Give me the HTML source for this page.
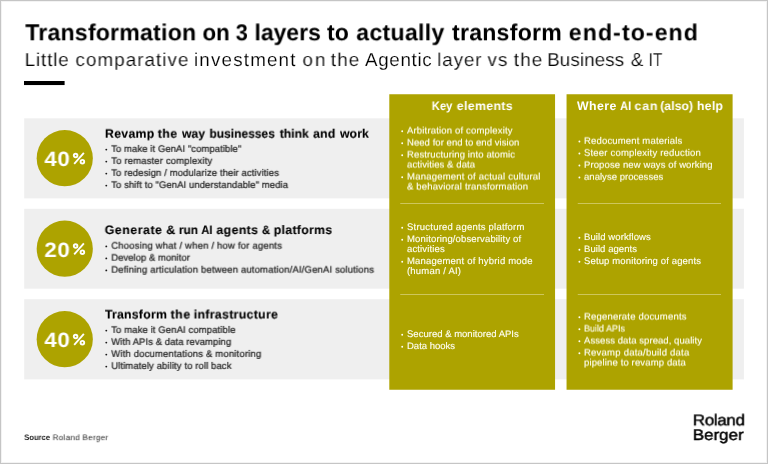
<!DOCTYPE html>
<html lang="en"><head><meta charset="utf-8"><title>Transformation on 3 layers</title>
<style>
html,body{margin:0;padding:0;background:#fff}
body{width:768px;height:464px;position:relative;overflow:hidden;font-family:"Liberation Sans",sans-serif}
.frame{position:absolute;left:0;top:0;width:766px;height:462px;border:1px solid #c5c5c5;box-shadow:inset 0 0 0 1px #f3f3f3}
.t{position:absolute;white-space:nowrap;margin:0;padding:0;will-change:transform;text-rendering:geometricPrecision;transform-origin:0 0}
.bg{position:absolute;left:0;top:0}
</style></head><body>
<div class="frame"></div>

<svg class="bg" width="768" height="464" viewBox="0 0 768 464"><rect x="24" y="81" width="40.6" height="4.05" fill="#000"/><rect x="24.20" y="118.30" width="719.70" height="80.10" fill="#efefef"/><rect x="24.20" y="208.80" width="719.70" height="79.90" fill="#efefef"/><rect x="24.20" y="299.20" width="719.70" height="80.20" fill="#efefef"/><rect x="389.30" y="94.25" width="165.75" height="295.50" fill="#ada300"/><rect x="566.55" y="94.25" width="166.05" height="295.50" fill="#ada300"/><circle cx="64.75" cy="158.20" r="28.1" fill="#ada300"/><g transform="translate(72.50 150.70)" fill="none" stroke="#fff"><circle cx="3.1" cy="4.8" r="1.8" stroke-width="1.9"/><circle cx="9.9" cy="11.0" r="1.8" stroke-width="1.9"/><line x1="11.35" y1="2.25" x2="1.7" y2="13.25" stroke-width="1.85"/></g><circle cx="64.75" cy="248.70" r="28.1" fill="#ada300"/><g transform="translate(72.50 241.20)" fill="none" stroke="#fff"><circle cx="3.1" cy="4.8" r="1.8" stroke-width="1.9"/><circle cx="9.9" cy="11.0" r="1.8" stroke-width="1.9"/><line x1="11.35" y1="2.25" x2="1.7" y2="13.25" stroke-width="1.85"/></g><circle cx="64.75" cy="339.20" r="28.1" fill="#ada300"/><g transform="translate(72.50 331.70)" fill="none" stroke="#fff"><circle cx="3.1" cy="4.8" r="1.8" stroke-width="1.9"/><circle cx="9.9" cy="11.0" r="1.8" stroke-width="1.9"/><line x1="11.35" y1="2.25" x2="1.7" y2="13.25" stroke-width="1.85"/></g><line x1="400.25" y1="203.50" x2="544" y2="203.50" stroke="#cdc65c" stroke-width="1"/><line x1="577.75" y1="203.50" x2="721" y2="203.50" stroke="#cdc65c" stroke-width="1"/><line x1="400.25" y1="294.50" x2="544" y2="294.50" stroke="#cdc65c" stroke-width="1"/><line x1="577.75" y1="294.50" x2="721" y2="294.50" stroke="#cdc65c" stroke-width="1"/><circle cx="106.30" cy="149.60" r="0.95" fill="#1c1c1c"/><circle cx="106.30" cy="161.60" r="0.95" fill="#1c1c1c"/><circle cx="106.30" cy="173.60" r="0.95" fill="#1c1c1c"/><circle cx="106.30" cy="185.60" r="0.95" fill="#1c1c1c"/><circle cx="106.30" cy="246.40" r="0.95" fill="#1c1c1c"/><circle cx="106.30" cy="258.40" r="0.95" fill="#1c1c1c"/><circle cx="106.30" cy="270.40" r="0.95" fill="#1c1c1c"/><circle cx="106.30" cy="330.60" r="0.95" fill="#1c1c1c"/><circle cx="106.30" cy="342.60" r="0.95" fill="#1c1c1c"/><circle cx="106.30" cy="354.60" r="0.95" fill="#1c1c1c"/><circle cx="106.30" cy="366.60" r="0.95" fill="#1c1c1c"/><circle cx="402.20" cy="131.25" r="0.95" fill="#fffff4"/><circle cx="402.20" cy="143.25" r="0.95" fill="#fffff4"/><circle cx="402.20" cy="155.25" r="0.95" fill="#fffff4"/><circle cx="402.20" cy="177.25" r="0.95" fill="#fffff4"/><circle cx="402.20" cy="227.70" r="0.95" fill="#fffff4"/><circle cx="402.20" cy="239.70" r="0.95" fill="#fffff4"/><circle cx="402.20" cy="261.70" r="0.95" fill="#fffff4"/><circle cx="402.20" cy="334.70" r="0.95" fill="#fffff4"/><circle cx="402.20" cy="346.70" r="0.95" fill="#fffff4"/><circle cx="579.40" cy="141.50" r="0.95" fill="#fffff4"/><circle cx="579.40" cy="153.50" r="0.95" fill="#fffff4"/><circle cx="579.40" cy="165.50" r="0.95" fill="#fffff4"/><circle cx="579.40" cy="177.50" r="0.95" fill="#fffff4"/><circle cx="579.40" cy="237.70" r="0.95" fill="#fffff4"/><circle cx="579.40" cy="249.70" r="0.95" fill="#fffff4"/><circle cx="579.40" cy="261.70" r="0.95" fill="#fffff4"/><circle cx="579.40" cy="317.25" r="0.95" fill="#fffff4"/><circle cx="579.40" cy="329.25" r="0.95" fill="#fffff4"/><circle cx="579.40" cy="341.25" r="0.95" fill="#fffff4"/><circle cx="579.40" cy="353.25" r="0.95" fill="#fffff4"/></svg>
<div class="t" style="left:25px;top:19px;font-size:23.10px;line-height:26px;font-weight:700;color:#000;letter-spacing:0.209px;transform:translate(0.30px,0.30px) rotate(0.001deg)">Transformation</div>
<div class="t" style="left:202px;top:19px;font-size:23.10px;line-height:26px;font-weight:700;color:#000;letter-spacing:0.000px;transform:translate(0.50px,0.30px) rotate(0.001deg) scaleX(0.968)">on</div>
<div class="t" style="left:235px;top:19px;font-size:23.10px;line-height:26px;font-weight:700;color:#000;letter-spacing:0.000px;transform:translate(0.75px,0.30px) rotate(0.001deg) scaleX(0.942)">3</div>
<div class="t" style="left:254px;top:19px;font-size:23.10px;line-height:26px;font-weight:700;color:#000;letter-spacing:0.000px;transform:translate(0.51px,0.30px) rotate(0.001deg) scaleX(0.993)">layers</div>
<div class="t" style="left:327px;top:19px;font-size:23.10px;line-height:26px;font-weight:700;color:#000;letter-spacing:0.060px;transform:translate(0.00px,0.30px) rotate(0.001deg)">to</div>
<div class="t" style="left:356px;top:19px;font-size:23.10px;line-height:26px;font-weight:700;color:#000;letter-spacing:0.299px;transform:translate(0.25px,0.30px) rotate(0.001deg)">actually</div>
<div class="t" style="left:452px;top:19px;font-size:23.10px;line-height:26px;font-weight:700;color:#000;letter-spacing:0.249px;transform:translate(0.00px,0.30px) rotate(0.001deg)">transform</div>
<div class="t" style="left:568px;top:19px;font-size:23.10px;line-height:26px;font-weight:700;color:#000;letter-spacing:1.096px;transform:translate(0.75px,0.30px) rotate(0.001deg)">end-to-end</div>
<div class="t" style="left:24px;top:49px;font-size:18.80px;line-height:21px;font-weight:400;color:#000;letter-spacing:0.865px;-webkit-text-stroke:0.15px #fff;transform:translate(0.70px,0.00px) rotate(0.001deg)">Little</div>
<div class="t" style="left:75px;top:49px;font-size:18.80px;line-height:21px;font-weight:400;color:#000;letter-spacing:1.065px;-webkit-text-stroke:0.15px #fff;transform:translate(0.50px,0.00px) rotate(0.001deg)">comparative</div>
<div class="t" style="left:194px;top:49px;font-size:18.80px;line-height:21px;font-weight:400;color:#000;letter-spacing:1.184px;-webkit-text-stroke:0.15px #fff;transform:translate(0.00px,0.00px) rotate(0.001deg)">investment</div>
<div class="t" style="left:302px;top:49px;font-size:18.80px;line-height:21px;font-weight:400;color:#000;letter-spacing:2.055px;-webkit-text-stroke:0.15px #fff;transform:translate(0.50px,0.00px) rotate(0.001deg)">on</div>
<div class="t" style="left:330px;top:49px;font-size:18.80px;line-height:21px;font-weight:400;color:#000;letter-spacing:1.168px;-webkit-text-stroke:0.15px #fff;transform:translate(0.75px,0.00px) rotate(0.001deg)">the</div>
<div class="t" style="left:365px;top:49px;font-size:18.80px;line-height:21px;font-weight:400;color:#000;letter-spacing:0.666px;-webkit-text-stroke:0.15px #fff;transform:translate(0.00px,0.00px) rotate(0.001deg)">Agentic</div>
<div class="t" style="left:437px;top:49px;font-size:18.80px;line-height:21px;font-weight:400;color:#000;letter-spacing:0.887px;-webkit-text-stroke:0.15px #fff;transform:translate(0.25px,0.00px) rotate(0.001deg)">layer</div>
<div class="t" style="left:487px;top:49px;font-size:18.80px;line-height:21px;font-weight:400;color:#000;letter-spacing:1.109px;-webkit-text-stroke:0.15px #fff;transform:translate(0.50px,0.00px) rotate(0.001deg)">vs</div>
<div class="t" style="left:513px;top:49px;font-size:18.80px;line-height:21px;font-weight:400;color:#000;letter-spacing:1.168px;-webkit-text-stroke:0.15px #fff;transform:translate(0.75px,0.00px) rotate(0.001deg)">the</div>
<div class="t" style="left:547px;top:49px;font-size:18.80px;line-height:21px;font-weight:400;color:#000;letter-spacing:0.098px;-webkit-text-stroke:0.15px #fff;transform:translate(0.25px,0.00px) rotate(0.001deg)">Business</div>
<div class="t" style="left:630px;top:49px;font-size:18.80px;line-height:21px;font-weight:400;color:#000;letter-spacing:0.000px;-webkit-text-stroke:0.15px #fff;transform:translate(0.75px,0.00px) rotate(0.001deg)">&amp;</div>
<div class="t" style="left:648px;top:49px;font-size:18.80px;line-height:21px;font-weight:400;color:#000;letter-spacing:0.000px;-webkit-text-stroke:0.15px #fff;transform:translate(0.69px,0.00px) rotate(0.001deg) scaleX(0.814)">IT</div>
<div class="t" style="left:105px;top:126px;font-size:12.30px;line-height:14px;font-weight:700;color:#000;letter-spacing:0.284px;-webkit-text-stroke:0.12px #000;transform:translate(0.00px,0.71px) rotate(0.001deg)">Revamp</div>
<div class="t" style="left:157px;top:126px;font-size:12.30px;line-height:14px;font-weight:700;color:#000;letter-spacing:0.447px;-webkit-text-stroke:0.12px #000;transform:translate(0.75px,0.71px) rotate(0.001deg)">the</div>
<div class="t" style="left:181px;top:126px;font-size:12.30px;line-height:14px;font-weight:700;color:#000;letter-spacing:0.000px;-webkit-text-stroke:0.12px #000;transform:translate(0.99px,0.71px) rotate(0.001deg) scaleX(0.988)">way</div>
<div class="t" style="left:209px;top:126px;font-size:12.30px;line-height:14px;font-weight:700;color:#000;letter-spacing:0.000px;-webkit-text-stroke:0.12px #000;transform:translate(0.50px,0.71px) rotate(0.001deg) scaleX(0.975)">businesses</div>
<div class="t" style="left:279px;top:126px;font-size:12.30px;line-height:14px;font-weight:700;color:#000;letter-spacing:0.000px;-webkit-text-stroke:0.12px #000;transform:translate(0.75px,0.71px) rotate(0.001deg) scaleX(0.990)">think</div>
<div class="t" style="left:313px;top:126px;font-size:12.30px;line-height:14px;font-weight:700;color:#000;letter-spacing:0.150px;-webkit-text-stroke:0.12px #000;transform:translate(0.10px,0.71px) rotate(0.001deg)">and</div>
<div class="t" style="left:340px;top:126px;font-size:12.30px;line-height:14px;font-weight:700;color:#000;letter-spacing:0.046px;-webkit-text-stroke:0.12px #000;transform:translate(0.00px,0.71px) rotate(0.001deg)">work</div>
<div class="t" style="left:104px;top:223px;font-size:12.30px;line-height:14px;font-weight:700;color:#000;letter-spacing:0.554px;-webkit-text-stroke:0.12px #000;transform:translate(0.75px,0.01px) rotate(0.001deg)">Generate</div>
<div class="t" style="left:166px;top:223px;font-size:12.30px;line-height:14px;font-weight:700;color:#000;letter-spacing:0.000px;-webkit-text-stroke:0.12px #000;transform:translate(0.25px,0.01px) rotate(0.001deg) scaleX(1.028)">&amp;</div>
<div class="t" style="left:178px;top:223px;font-size:12.30px;line-height:14px;font-weight:700;color:#000;letter-spacing:0.000px;-webkit-text-stroke:0.12px #000;transform:translate(0.90px,0.01px) rotate(0.001deg) scaleX(0.969)">run</div>
<div class="t" style="left:201px;top:223px;font-size:12.30px;line-height:14px;font-weight:700;color:#000;letter-spacing:0.000px;-webkit-text-stroke:0.12px #000;transform:translate(0.40px,0.01px) rotate(0.001deg) scaleX(0.892)">AI</div>
<div class="t" style="left:216px;top:223px;font-size:12.30px;line-height:14px;font-weight:700;color:#000;letter-spacing:0.401px;-webkit-text-stroke:0.12px #000;transform:translate(0.40px,0.01px) rotate(0.001deg)">agents</div>
<div class="t" style="left:261px;top:223px;font-size:12.30px;line-height:14px;font-weight:700;color:#000;letter-spacing:0.000px;-webkit-text-stroke:0.12px #000;transform:translate(0.90px,0.01px) rotate(0.001deg) scaleX(0.928)">&amp;</div>
<div class="t" style="left:273px;top:223px;font-size:12.30px;line-height:14px;font-weight:700;color:#000;letter-spacing:0.289px;-webkit-text-stroke:0.12px #000;transform:translate(0.75px,0.01px) rotate(0.001deg)">platforms</div>
<div class="t" style="left:105px;top:307px;font-size:12.30px;line-height:14px;font-weight:700;color:#000;letter-spacing:0.213px;-webkit-text-stroke:0.12px #000;transform:translate(0.00px,0.51px) rotate(0.001deg)">Transform</div>
<div class="t" style="left:170px;top:307px;font-size:12.30px;line-height:14px;font-weight:700;color:#000;letter-spacing:0.522px;-webkit-text-stroke:0.12px #000;transform:translate(0.60px,0.51px) rotate(0.001deg)">the</div>
<div class="t" style="left:193px;top:307px;font-size:12.30px;line-height:14px;font-weight:700;color:#000;letter-spacing:0.319px;-webkit-text-stroke:0.12px #000;transform:translate(0.75px,0.51px) rotate(0.001deg)">infrastructure</div>
<div class="t" style="left:111px;top:143px;font-size:9.50px;line-height:11px;font-weight:400;color:#1c1c1c;letter-spacing:0.067px;-webkit-text-stroke:0.22px #1c1c1c;transform:translate(0.30px,0.92px) rotate(0.001deg)">To make it GenAI &quot;compatible&quot;</div>
<div class="t" style="left:111px;top:155px;font-size:9.50px;line-height:11px;font-weight:400;color:#1c1c1c;letter-spacing:0.156px;-webkit-text-stroke:0.22px #1c1c1c;transform:translate(0.30px,0.92px) rotate(0.001deg)">To remaster complexity</div>
<div class="t" style="left:111px;top:167px;font-size:9.50px;line-height:11px;font-weight:400;color:#1c1c1c;letter-spacing:0.100px;-webkit-text-stroke:0.22px #1c1c1c;transform:translate(0.30px,0.92px) rotate(0.001deg)">To redesign / modularize their activities</div>
<div class="t" style="left:111px;top:179px;font-size:9.50px;line-height:11px;font-weight:400;color:#1c1c1c;letter-spacing:0.081px;-webkit-text-stroke:0.22px #1c1c1c;transform:translate(0.30px,0.92px) rotate(0.001deg)">To shift to &quot;GenAI understandable&quot; media</div>
<div class="t" style="left:111px;top:240px;font-size:9.50px;line-height:11px;font-weight:400;color:#1c1c1c;letter-spacing:0.194px;-webkit-text-stroke:0.22px #1c1c1c;transform:translate(0.30px,0.72px) rotate(0.001deg)">Choosing what / when / how for agents</div>
<div class="t" style="left:111px;top:252px;font-size:9.50px;line-height:11px;font-weight:400;color:#1c1c1c;letter-spacing:0.029px;-webkit-text-stroke:0.22px #1c1c1c;transform:translate(0.30px,0.72px) rotate(0.001deg)">Develop &amp; monitor</div>
<div class="t" style="left:111px;top:264px;font-size:9.50px;line-height:11px;font-weight:400;color:#1c1c1c;letter-spacing:0.169px;-webkit-text-stroke:0.22px #1c1c1c;transform:translate(0.30px,0.72px) rotate(0.001deg)">Defining articulation between automation/AI/GenAI solutions</div>
<div class="t" style="left:111px;top:324px;font-size:9.50px;line-height:11px;font-weight:400;color:#1c1c1c;letter-spacing:0.107px;-webkit-text-stroke:0.22px #1c1c1c;transform:translate(0.30px,0.92px) rotate(0.001deg)">To make it GenAI compatible</div>
<div class="t" style="left:111px;top:336px;font-size:9.50px;line-height:11px;font-weight:400;color:#1c1c1c;letter-spacing:0.068px;-webkit-text-stroke:0.22px #1c1c1c;transform:translate(0.30px,0.92px) rotate(0.001deg)">With APIs &amp; data revamping</div>
<div class="t" style="left:111px;top:348px;font-size:9.50px;line-height:11px;font-weight:400;color:#1c1c1c;letter-spacing:0.171px;-webkit-text-stroke:0.22px #1c1c1c;transform:translate(0.30px,0.92px) rotate(0.001deg)">With documentations &amp; monitoring</div>
<div class="t" style="left:111px;top:360px;font-size:9.50px;line-height:11px;font-weight:400;color:#1c1c1c;letter-spacing:0.100px;-webkit-text-stroke:0.22px #1c1c1c;transform:translate(0.30px,0.92px) rotate(0.001deg)">Ultimately ability to roll back</div>
<div class="t" style="left:431px;top:99px;font-size:12.30px;line-height:14px;font-weight:700;color:#fff;letter-spacing:0.000px;transform:translate(0.75px,0.01px) rotate(0.001deg) scaleX(0.913)">Key</div>
<div class="t" style="left:456px;top:99px;font-size:12.30px;line-height:14px;font-weight:700;color:#fff;letter-spacing:0.361px;transform:translate(0.75px,0.01px) rotate(0.001deg)">elements</div>
<div class="t" style="left:577px;top:99px;font-size:12.30px;line-height:14px;font-weight:700;color:#fff;letter-spacing:0.414px;transform:translate(0.00px,0.01px) rotate(0.001deg)">Where</div>
<div class="t" style="left:620px;top:99px;font-size:12.30px;line-height:14px;font-weight:700;color:#fff;letter-spacing:0.000px;transform:translate(0.10px,0.01px) rotate(0.001deg) scaleX(0.896)">AI</div>
<div class="t" style="left:634px;top:99px;font-size:12.30px;line-height:14px;font-weight:700;color:#fff;letter-spacing:0.911px;transform:translate(0.50px,0.01px) rotate(0.001deg)">can</div>
<div class="t" style="left:660px;top:99px;font-size:12.30px;line-height:14px;font-weight:700;color:#fff;letter-spacing:0.030px;transform:translate(0.25px,0.01px) rotate(0.001deg)">(also)</div>
<div class="t" style="left:696px;top:99px;font-size:12.30px;line-height:14px;font-weight:700;color:#fff;letter-spacing:0.278px;transform:translate(0.90px,0.01px) rotate(0.001deg)">help</div>
<div class="t" style="left:407px;top:125px;font-size:9.50px;line-height:11px;font-weight:400;color:#fffff4;letter-spacing:0.172px;-webkit-text-stroke:0.12px #fffff4;transform:translate(0.00px,0.57px) rotate(0.001deg)">Arbitration of complexity</div>
<div class="t" style="left:407px;top:137px;font-size:9.50px;line-height:11px;font-weight:400;color:#fffff4;letter-spacing:0.055px;-webkit-text-stroke:0.12px #fffff4;transform:translate(0.00px,0.57px) rotate(0.001deg)">Need for end to end vision</div>
<div class="t" style="left:407px;top:149px;font-size:9.50px;line-height:11px;font-weight:400;color:#fffff4;letter-spacing:0.122px;-webkit-text-stroke:0.12px #fffff4;transform:translate(0.00px,0.57px) rotate(0.001deg)">Restructuring into atomic</div>
<div class="t" style="left:407px;top:159px;font-size:9.50px;line-height:11px;font-weight:400;color:#fffff4;letter-spacing:0.094px;-webkit-text-stroke:0.12px #fffff4;transform:translate(0.00px,0.57px) rotate(0.001deg)">activities &amp; data</div>
<div class="t" style="left:407px;top:171px;font-size:9.50px;line-height:11px;font-weight:400;color:#fffff4;letter-spacing:0.218px;-webkit-text-stroke:0.12px #fffff4;transform:translate(0.00px,0.57px) rotate(0.001deg)">Management of actual cultural</div>
<div class="t" style="left:407px;top:181px;font-size:9.50px;line-height:11px;font-weight:400;color:#fffff4;letter-spacing:0.187px;-webkit-text-stroke:0.12px #fffff4;transform:translate(0.00px,0.57px) rotate(0.001deg)">&amp; behavioral transformation</div>
<div class="t" style="left:407px;top:222px;font-size:9.50px;line-height:11px;font-weight:400;color:#fffff4;letter-spacing:0.219px;-webkit-text-stroke:0.12px #fffff4;transform:translate(0.00px,0.02px) rotate(0.001deg)">Structured agents platform</div>
<div class="t" style="left:407px;top:234px;font-size:9.50px;line-height:11px;font-weight:400;color:#fffff4;letter-spacing:0.145px;-webkit-text-stroke:0.12px #fffff4;transform:translate(0.00px,0.02px) rotate(0.001deg)">Monitoring/observability of</div>
<div class="t" style="left:407px;top:244px;font-size:9.50px;line-height:11px;font-weight:400;color:#fffff4;letter-spacing:0.147px;-webkit-text-stroke:0.12px #fffff4;transform:translate(0.00px,0.02px) rotate(0.001deg)">activities</div>
<div class="t" style="left:407px;top:256px;font-size:9.50px;line-height:11px;font-weight:400;color:#fffff4;letter-spacing:0.192px;-webkit-text-stroke:0.12px #fffff4;transform:translate(0.00px,0.02px) rotate(0.001deg)">Management of hybrid mode</div>
<div class="t" style="left:407px;top:266px;font-size:9.50px;line-height:11px;font-weight:400;color:#fffff4;letter-spacing:0.197px;-webkit-text-stroke:0.12px #fffff4;transform:translate(0.00px,0.02px) rotate(0.001deg)">(human / AI)</div>
<div class="t" style="left:407px;top:329px;font-size:9.50px;line-height:11px;font-weight:400;color:#fffff4;letter-spacing:0.014px;-webkit-text-stroke:0.12px #fffff4;transform:translate(0.00px,0.02px) rotate(0.001deg)">Secured &amp; monitored APIs</div>
<div class="t" style="left:407px;top:341px;font-size:9.50px;line-height:11px;font-weight:400;color:#fffff4;letter-spacing:-0.006px;-webkit-text-stroke:0.12px #fffff4;transform:translate(0.00px,0.02px) rotate(0.001deg)">Data hooks</div>
<div class="t" style="left:584px;top:135px;font-size:9.50px;line-height:11px;font-weight:400;color:#fffff4;letter-spacing:0.169px;-webkit-text-stroke:0.12px #fffff4;transform:translate(0.00px,0.82px) rotate(0.001deg)">Redocument materials</div>
<div class="t" style="left:584px;top:147px;font-size:9.50px;line-height:11px;font-weight:400;color:#fffff4;letter-spacing:0.194px;-webkit-text-stroke:0.12px #fffff4;transform:translate(0.00px,0.82px) rotate(0.001deg)">Steer complexity reduction</div>
<div class="t" style="left:584px;top:159px;font-size:9.50px;line-height:11px;font-weight:400;color:#fffff4;letter-spacing:0.110px;-webkit-text-stroke:0.12px #fffff4;transform:translate(0.00px,0.82px) rotate(0.001deg)">Propose new ways of working</div>
<div class="t" style="left:584px;top:171px;font-size:9.50px;line-height:11px;font-weight:400;color:#fffff4;letter-spacing:0.036px;-webkit-text-stroke:0.12px #fffff4;transform:translate(0.00px,0.82px) rotate(0.001deg)">analyse processes</div>
<div class="t" style="left:584px;top:232px;font-size:9.50px;line-height:11px;font-weight:400;color:#fffff4;letter-spacing:0.092px;-webkit-text-stroke:0.12px #fffff4;transform:translate(0.00px,0.02px) rotate(0.001deg)">Build workflows</div>
<div class="t" style="left:584px;top:244px;font-size:9.50px;line-height:11px;font-weight:400;color:#fffff4;letter-spacing:0.065px;-webkit-text-stroke:0.12px #fffff4;transform:translate(0.00px,0.02px) rotate(0.001deg)">Build agents</div>
<div class="t" style="left:584px;top:256px;font-size:9.50px;line-height:11px;font-weight:400;color:#fffff4;letter-spacing:0.138px;-webkit-text-stroke:0.12px #fffff4;transform:translate(0.00px,0.02px) rotate(0.001deg)">Setup monitoring of agents</div>
<div class="t" style="left:584px;top:311px;font-size:9.50px;line-height:11px;font-weight:400;color:#fffff4;letter-spacing:0.197px;-webkit-text-stroke:0.12px #fffff4;transform:translate(0.00px,0.57px) rotate(0.001deg)">Regenerate documents</div>
<div class="t" style="left:584px;top:323px;font-size:9.50px;line-height:11px;font-weight:400;color:#fffff4;letter-spacing:0.000px;-webkit-text-stroke:0.12px #fffff4;transform:translate(0.00px,0.57px) rotate(0.001deg) scaleX(0.947)">Build APIs</div>
<div class="t" style="left:584px;top:335px;font-size:9.50px;line-height:11px;font-weight:400;color:#fffff4;letter-spacing:0.070px;-webkit-text-stroke:0.12px #fffff4;transform:translate(0.00px,0.57px) rotate(0.001deg)">Assess data spread, quality</div>
<div class="t" style="left:584px;top:347px;font-size:9.50px;line-height:11px;font-weight:400;color:#fffff4;letter-spacing:0.235px;-webkit-text-stroke:0.12px #fffff4;transform:translate(0.00px,0.57px) rotate(0.001deg)">Revamp data/build data</div>
<div class="t" style="left:584px;top:357px;font-size:9.50px;line-height:11px;font-weight:400;color:#fffff4;letter-spacing:0.138px;-webkit-text-stroke:0.12px #fffff4;transform:translate(0.00px,0.57px) rotate(0.001deg)">pipeline to revamp data</div>
<div class="t" style="left:24px;top:433px;font-size:8.00px;line-height:9px;font-weight:700;color:#1c1c1c;letter-spacing:0.000px;transform:translate(0.30px,0.02px) rotate(0.001deg) scaleX(0.947)">Source</div>
<div class="t" style="left:52px;top:433px;font-size:8.00px;line-height:9px;font-weight:400;color:#1c1c1c;letter-spacing:0.323px;transform:translate(0.70px,0.17px) rotate(0.001deg)">Roland Berger</div>
<div class="t" style="left:692px;top:412px;font-size:15.40px;line-height:17px;font-weight:400;color:#000;letter-spacing:-0.288px;-webkit-text-stroke:0.45px #000;transform:translate(0.80px,0.31px) rotate(0.001deg) scaleX(1.100)">Roland</div>
<div class="t" style="left:692px;top:427px;font-size:15.40px;line-height:17px;font-weight:400;color:#000;letter-spacing:0.004px;-webkit-text-stroke:0.45px #000;transform:translate(0.80px,0.01px) rotate(0.001deg) scaleX(1.100)">Berger</div>
<div class="t" style="left:44px;top:148px;font-size:20.80px;line-height:23px;font-weight:700;color:#fff;letter-spacing:0.518px;transform:translate(0.40px,0.01px) rotate(0.001deg) scaleX(1.070)">40</div>
<div class="t" style="left:44px;top:239px;font-size:20.80px;line-height:23px;font-weight:700;color:#fff;letter-spacing:0.518px;transform:translate(0.40px,0.01px) rotate(0.001deg) scaleX(1.070)">20</div>
<div class="t" style="left:44px;top:329px;font-size:20.80px;line-height:23px;font-weight:700;color:#fff;letter-spacing:0.518px;transform:translate(0.40px,0.01px) rotate(0.001deg) scaleX(1.070)">40</div>
</body></html>
